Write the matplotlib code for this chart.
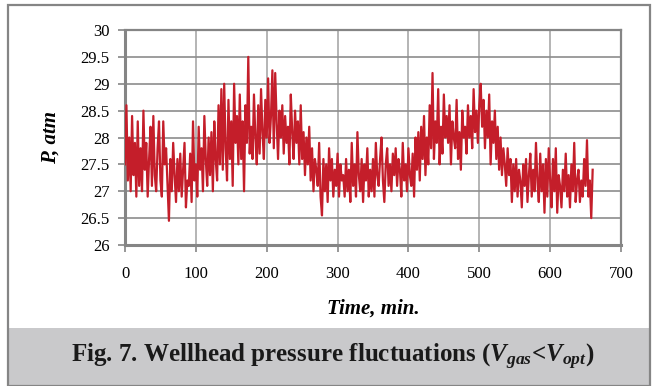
"""Wellhead pressure fluctuations chart (Fig. 7)."""

import numpy as np
import matplotlib

matplotlib.use("Agg")
import matplotlib.pyplot as plt
from matplotlib.patches import Rectangle

# time step of the sampled readings (min)
time_step = 2

# pressure readings, atm (one row = 20 minutes)
pressure = [
    27.5, 28.6, 27.2, 28.0, 27.0, 28.4, 27.3, 27.9, 26.9, 28.3,
    27.1, 27.8, 27.0, 28.5, 27.4, 27.9, 26.9, 27.6, 28.2, 27.1,
    28.4, 27.3, 27.0, 27.8, 28.3, 27.2, 26.9, 28.3, 27.5, 27.8,
    27.1, 26.45, 27.6, 27.0, 27.9, 27.3, 26.8, 27.6, 27.0, 27.7,
    26.9, 27.4, 27.9, 26.7, 27.2, 27.1, 27.7, 26.8, 28.3, 27.2,
    27.5, 26.9, 28.2, 27.4, 27.8, 27.0, 28.4, 27.6, 27.1, 28.0,
    27.3, 28.1, 27.0, 28.3, 27.6, 27.2, 28.6, 27.5, 28.9, 27.4,
    29.0, 27.8, 27.2, 28.7, 27.6, 28.3, 27.1, 29.0, 27.9, 28.4,
    27.5, 28.8, 27.6, 28.3, 27.0, 28.6, 27.9, 29.5, 27.7, 28.2,
    27.6, 28.8, 28.0, 27.5, 28.6, 27.7, 28.9, 28.1, 27.6, 28.7,
    28.0, 29.1, 27.9, 28.4, 29.25, 27.8, 29.2, 28.3, 27.6, 28.5,
    28.0, 28.6, 27.7, 28.4, 27.9, 28.2, 27.5, 28.8, 28.1, 27.6,
    28.5, 27.9, 28.3, 27.5, 28.6, 27.6, 28.1, 27.3, 28.0, 27.5,
    28.2, 27.2, 27.8, 27.0, 27.6, 27.4, 27.1, 27.9, 26.9, 26.55,
    27.6, 27.0, 27.5, 26.8, 27.8, 27.2, 27.6, 26.9, 27.4, 27.1,
    27.7, 26.9, 27.5, 27.2, 27.3, 26.9, 27.6, 27.0, 27.4, 26.8,
    27.9, 27.1, 27.5, 26.9, 28.1, 27.3, 27.0, 27.6, 26.8, 27.5,
    27.2, 27.8, 26.9, 27.4, 27.0, 27.6, 26.9, 27.9, 27.3, 27.1,
    27.6, 28.0, 27.2, 26.8, 27.5, 27.8, 27.1, 27.5, 27.0, 27.7,
    27.3, 27.8, 27.1, 27.6, 27.4, 26.9, 27.9, 27.2, 27.5, 27.0,
    27.8, 27.3, 27.1, 27.7, 26.9, 28.0, 27.4, 28.1, 27.2, 28.2,
    27.6, 28.4, 27.3, 28.0, 27.5, 28.6, 27.8, 29.2, 27.6, 28.3,
    27.9, 28.9, 27.5, 28.2, 27.7, 28.8, 28.0, 28.4, 27.9, 28.6,
    27.5, 28.3, 28.0, 27.8, 28.7, 27.6, 28.1, 27.4, 28.5, 28.0,
    28.2, 27.7, 28.6, 28.0, 28.4, 27.8, 28.9, 28.1, 28.5, 27.9,
    28.6, 29.0, 28.2, 28.7, 27.8, 28.5, 28.0, 28.8, 27.5, 28.3,
    27.9, 28.5, 27.6, 28.2, 27.4, 28.0, 27.3, 27.8, 27.5, 27.1,
    27.8, 27.3, 27.6, 26.8, 27.5, 27.0, 27.6, 26.9, 27.4, 27.2,
    26.7, 27.5, 27.1, 27.6, 26.8, 27.3, 27.7, 26.9, 27.4, 27.0,
    27.9, 27.2, 26.8, 27.7, 27.0, 27.5, 26.6, 27.6, 26.9, 27.8,
    27.2, 26.7, 27.6, 27.0, 27.8, 26.6, 27.3, 27.1, 26.7, 27.4,
    27.0, 27.7, 26.9, 27.3, 26.7, 27.5, 27.0, 27.9, 26.8, 27.2,
    27.4, 26.8, 27.2, 26.9, 27.6, 27.1, 27.95, 26.9, 27.2, 26.5,
    27.4,
]

x_ticks = [0, 100, 200, 300, 400, 500, 600, 700]
y_ticks = [26, 26.5, 27, 27.5, 28, 28.5, 29, 29.5, 30]
y_tick_labels = ["26", "26.5", "27", "27.5", "28", "28.5", "29", "29.5", "30"]

SERIF = "Liberation Serif"
GRID = "#8c8c8c"
FRAME = "#858585"

plt.rcParams["mathtext.fontset"] = "custom"
plt.rcParams["mathtext.rm"] = f"{SERIF}:bold"
plt.rcParams["mathtext.it"] = f"{SERIF}:bold:italic"

W, H = 658, 386
fig = plt.figure(figsize=(W / 100, H / 100), dpi=100)

# outer frame and caption band
fig.patches.append(
    Rectangle((8 / W, 0), (650 - 8) / W, 58 / H,
              transform=fig.transFigure, facecolor="#c9c9cb", edgecolor="none",
              zorder=0)
)
fig.patches.append(
    Rectangle((8 / W, 0), (650 - 8) / W, (386 - 5) / H,
              transform=fig.transFigure, facecolor="none", edgecolor=FRAME,
              linewidth=1.6, zorder=1)
)

ax = fig.add_axes([125 / W, 1 - 245 / H, (621 - 125) / W, (245 - 30) / H])
t = np.arange(len(pressure)) * time_step
ax.plot(t, pressure, color="#c41e2a", linewidth=1.6, zorder=3)

ax.set_xlim(0, 700)
ax.set_ylim(26, 30)
ax.set_xticks(x_ticks)
ax.set_xticklabels([str(v) for v in x_ticks], fontfamily=SERIF, fontsize=12)
ax.set_yticks(y_ticks)
ax.set_yticklabels(y_tick_labels, fontfamily=SERIF, fontsize=12)
ax.tick_params(axis="both", direction="out", length=5, width=1.2,
               color=FRAME, pad=6)
ax.tick_params(axis="x", pad=10)

ax.grid(axis="y", color=GRID, linewidth=1.2, zorder=1)
ax.grid(axis="x", color="#a8a8a8", linewidth=1.2, zorder=1)
ax.set_axisbelow(True)
for side in ["top", "right"]:
    ax.spines[side].set_color(FRAME)
    ax.spines[side].set_linewidth(1.6)
for side in ["left", "bottom"]:
    ax.spines[side].set_color(FRAME)
    ax.spines[side].set_linewidth(2.2)

ax.set_ylabel("P, atm", fontfamily=SERIF, fontsize=15, fontweight="bold",
              fontstyle="italic", labelpad=14)
ax.set_xlabel("Time, min.", fontfamily=SERIF, fontsize=15, fontweight="bold",
              fontstyle="italic", labelpad=12)

fig.text(0.505, 29 / H,
         r"Fig. 7. Wellhead pressure fluctuations ($V_{gas}$<$V_{opt}$)",
         ha="center", va="center", fontfamily=SERIF, fontsize=18,
         fontweight="bold", color="#1a1a1a")

fig.savefig("out.png", dpi=100, facecolor="white")
